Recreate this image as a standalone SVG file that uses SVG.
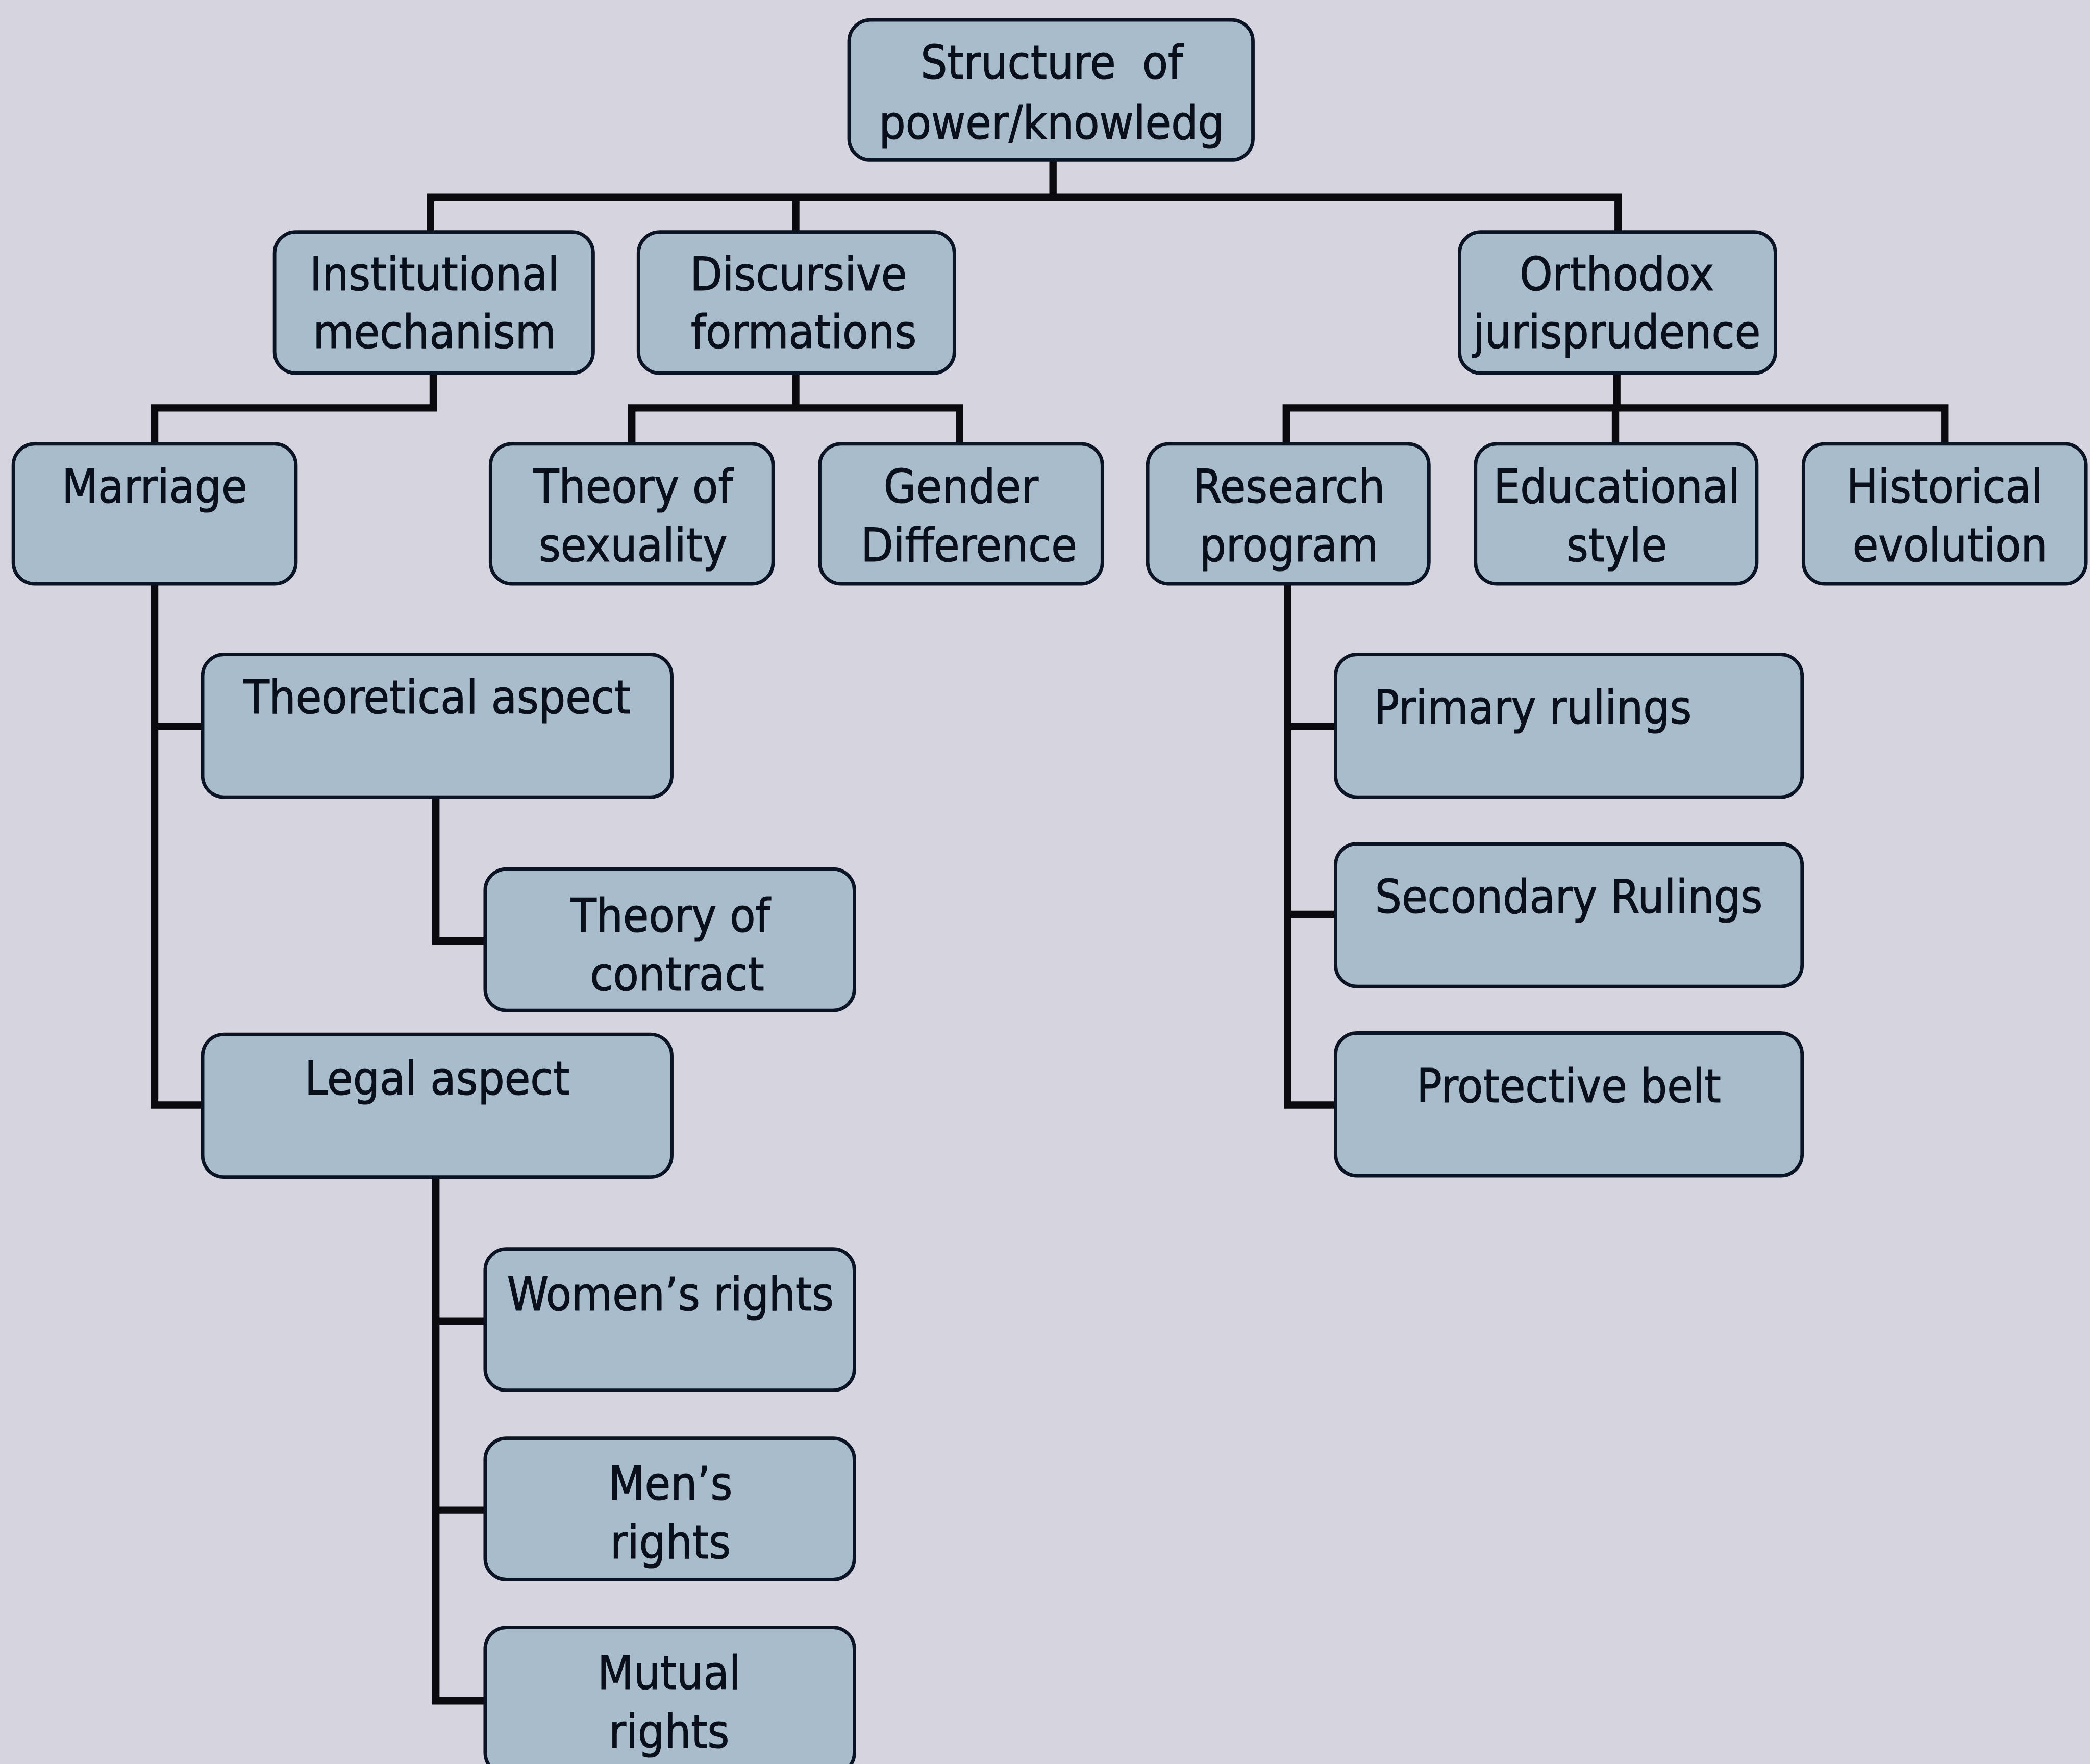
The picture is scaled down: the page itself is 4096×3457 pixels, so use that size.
<svg xmlns="http://www.w3.org/2000/svg" width="4096" height="3457" viewBox="0 0 4096 3457">
<style>
.box{fill:#a9bccb;stroke:#0b1424;stroke-width:2.6}
.t{font-family:"DejaVu Sans Condensed","DejaVu Sans",sans-serif;font-size:35px;fill:#0a0f1c;stroke:#0a0f1c;stroke-width:0.45;text-anchor:middle;white-space:pre}
.c{fill:none;stroke:#0a0a0f;stroke-width:5.5;stroke-linejoin:miter;stroke-linecap:square}
</style>
<rect width="4096" height="3457" fill="#d6d5df"/>
<g transform="scale(2.61224)">
<g id="connectors">
<path class="c" d="M790 121V148M323 148H1214M323 148V174M597 148V174M1214 148V174"/>
<path class="c" d="M325 280V306H116V333"/>
<path class="c" d="M597 280V306M474 306H720M474 306V333M720 306V333"/>
<path class="c" d="M1213 280V306M965 306H1459M965 306V333M1212 306V333M1459 306V333"/>
<path class="c" d="M116 438V829H152M116 545H152"/>
<path class="c" d="M327 598V706H364"/>
<path class="c" d="M327 883V1276H364M327 991H364M327 1133H364"/>
<path class="c" d="M966 438V829H1002M966 545H1002M966 686H1002"/>
</g>
<g id="root"><rect class="box" x="637" y="15" width="303" height="105" rx="16"/><text class="t" x="789" y="59" xml:space="preserve">Structure  of</text><text class="t" x="789" y="104">power/knowledg</text></g>
<g id="institutional"><rect class="box" x="206" y="174" width="239" height="106" rx="16"/><text class="t" x="326" y="218">Institutional</text><text class="t" x="326" y="261">mechanism</text></g>
<g id="discursive"><rect class="box" x="479" y="174" width="237" height="106" rx="16"/><text class="t" x="599" y="218">Discursive</text><text class="t" x="603" y="261">formations</text></g>
<g id="orthodox"><rect class="box" x="1095" y="174" width="237" height="106" rx="16"/><text class="t" x="1213" y="218">Orthodox</text><text class="t" x="1213" y="261">jurisprudence</text></g>
<g id="marriage"><rect class="box" x="10" y="333" width="212" height="105" rx="16"/><text class="t" x="116" y="377">Marriage</text></g>
<g id="sexuality"><rect class="box" x="368" y="333" width="212" height="105" rx="16"/><text class="t" x="475" y="377">Theory of</text><text class="t" x="475" y="421">sexuality</text></g>
<g id="gender"><rect class="box" x="615" y="333" width="212" height="105" rx="16"/><text class="t" x="721" y="377">Gender</text><text class="t" x="727" y="421">Difference</text></g>
<g id="research"><rect class="box" x="861" y="333" width="211" height="105" rx="16"/><text class="t" x="967" y="377">Research</text><text class="t" x="967" y="421">program</text></g>
<g id="educational"><rect class="box" x="1107" y="333" width="211" height="105" rx="16"/><text class="t" x="1213" y="377">Educational</text><text class="t" x="1213" y="421">style</text></g>
<g id="historical"><rect class="box" x="1353" y="333" width="212" height="105" rx="16"/><text class="t" x="1459" y="377">Historical</text><text class="t" x="1463" y="421">evolution</text></g>
<g id="theoretical"><rect class="box" x="152" y="491" width="352" height="107" rx="16"/><text class="t" x="328" y="535">Theoretical aspect</text></g>
<g id="contract"><rect class="box" x="364" y="652" width="277" height="106" rx="16"/><text class="t" x="503" y="699">Theory of</text><text class="t" x="508" y="743">contract</text></g>
<g id="legal"><rect class="box" x="152" y="776" width="352" height="107" rx="16"/><text class="t" x="328" y="821">Legal aspect</text></g>
<g id="women"><rect class="box" x="364" y="937" width="277" height="106" rx="16"/><text class="t" x="503" y="983">Women’s rights</text></g>
<g id="men"><rect class="box" x="364" y="1079" width="277" height="106" rx="16"/><text class="t" x="503" y="1125">Men’s</text><text class="t" x="503" y="1169">rights</text></g>
<g id="mutual"><rect class="box" x="364" y="1221" width="277" height="110" rx="16"/><text class="t" x="502" y="1267">Mutual</text><text class="t" x="502" y="1311">rights</text></g>
<g id="primary"><rect class="box" x="1002" y="491" width="350" height="107" rx="16"/><text class="t" x="1150" y="543">Primary rulings</text></g>
<g id="secondary"><rect class="box" x="1002" y="633" width="350" height="107" rx="16"/><text class="t" x="1177" y="685">Secondary Rulings</text></g>
<g id="protective"><rect class="box" x="1002" y="775" width="350" height="107" rx="16"/><text class="t" x="1177" y="827">Protective belt</text></g>
</g>
</svg>
